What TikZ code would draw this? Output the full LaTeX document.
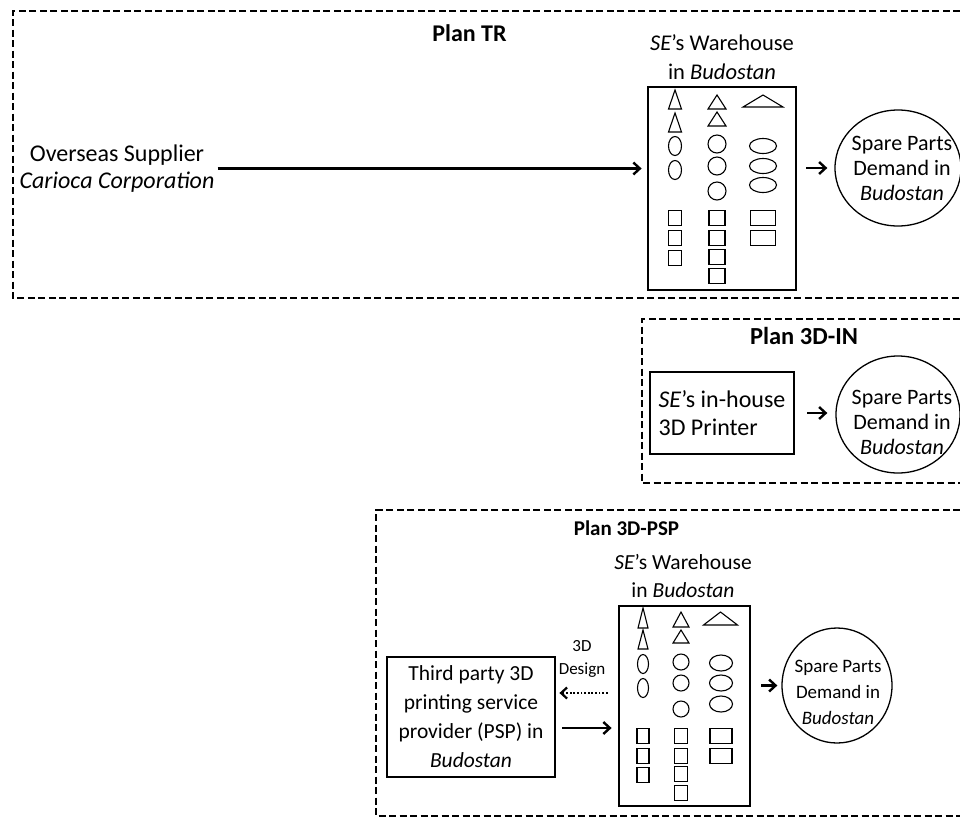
\documentclass[tikz,border=0pt]{standalone}
\usepackage{fontspec}
\setmainfont{Carlito}
\usetikzlibrary{arrows.meta,shapes.geometric}

\begin{document}
\begin{tikzpicture}[x=1pt,y=-1pt,
  plan/.style={line width=2.2pt, dash pattern=on 7pt off 3.5pt},
  txt/.style={font=\fontsize{22}{25}\selectfont, align=center, inner sep=0pt},
  ttl/.style={inner sep=0pt},
  store/.style={draw, line width=2.8pt, inner sep=0pt},
  dem/.style={draw, ellipse, line width=1.3pt, inner sep=0pt},
  item/.style={line width=1.1pt},
  arr/.style={line width=2.4pt, -{Straight Barb[length=6.5pt,width=12pt]}},
  dotarr/.style={line width=2.2pt, dash pattern=on 1.8pt off 1.8pt, -{Straight Barb[length=6pt,width=11pt]}}
]
\useasboundingbox (0,0) rectangle (960,820);

% ---------- Plan TR ----------
\draw[plan] (960,11) -| (12.7,298) -- (960,298);
\node[ttl, font=\fontsize{24}{28}\selectfont\bfseries] at (469.5,33) {Plan TR};
\node[txt, font=\fontsize{24}{27}\selectfont] (sup) at (117,168.5)
  {Overseas Supplier\\\textit{Carioca Corporation}};
\node[txt, font=\fontsize{22.5}{29}\selectfont] at (722,57.5)
  {\textit{SE}’s Warehouse\\in \textit{Budostan}};
\node[store, minimum width=148, minimum height=203] (wh1) at (722,188.5) {};
\node[dem, minimum width=126, minimum height=116] (dem1) at (898,168) {};
\node[txt] at (902,168) {Spare Parts\\Demand in\\\textit{Budostan}};

% stock kept in the warehouse
\begin{scope}[item]
  % first column
  \draw (668.5,109) -- (675,90) -- (681.5,109) -- cycle;
  \draw (668.5,132) -- (675,113) -- (681.5,132) -- cycle;
  \draw (675,146) ellipse [x radius=6.5, y radius=9.5];
  \draw (675,170) ellipse [x radius=6.5, y radius=9.5];
  \foreach \y in {218,238,258}
    \draw (668.5,\y-7.5) rectangle (681.5,\y+7.5);
  % second column
  \draw (708,109) -- (717,95) -- (726,109) -- cycle;
  \draw (708,126) -- (717,112) -- (726,126) -- cycle;
  \foreach \y in {144,166,191}
    \draw (717,\y) circle [radius=9];
  \foreach \y in {218,238,257,276}
    \draw (709,\y-7.5) rectangle (725,\y+7.5);
  % third column
  \draw (743,107) -- (763,95) -- (783,107) -- cycle;
  \foreach \y in {146,166,185}
    \draw (763,\y) ellipse [x radius=13.5, y radius=7.5];
  \foreach \y in {218,238}
    \draw (750.5,\y-7.5) rectangle (775.5,\y+7.5);
\end{scope}

\draw[arr, shorten <=3pt, shorten >=5pt] (sup.east) -- (sup.east -| wh1.west);
\draw[arr, shorten <=9pt, shorten >=7pt] (wh1.east |- dem1.west) -- (dem1.west);

% ---------- Plan 3D-IN ----------
\draw[plan] (960,319) -| (642,483) -- (960,483);
\node[ttl, font=\fontsize{24.5}{28}\selectfont\bfseries] at (804,335.5) {Plan 3D-IN};
\node[store, minimum width=144, minimum height=82, align=left,
      font=\fontsize{24}{28}\selectfont] (prn) at (722,413)
  {\textit{SE}’s in-house\\3D Printer};
\node[dem, minimum width=124, minimum height=117] (dem2) at (898,414.5) {};
\node[txt] at (902,422) {Spare Parts\\Demand in\\\textit{Budostan}};
\draw[arr, shorten <=12pt, shorten >=8pt] (prn.east) -- (prn.east -| dem2.west);

% ---------- Plan 3D-PSP ----------
\draw[plan] (960,510) -| (376,816) -- (960,816);
\node[ttl, font=\fontsize{21}{25}\selectfont\bfseries] at (626.5,528) {Plan 3D-PSP};
\node[txt, font=\fontsize{21.5}{28}\selectfont] at (683,576)
  {\textit{SE}’s Warehouse\\in \textit{Budostan}};
\node[store, minimum width=131, minimum height=200] (wh2) at (684.5,706) {};
\node[store, minimum width=168, minimum height=120, align=center,
      font=\fontsize{21.5}{29}\selectfont] (psp) at (471,717)
  {Third party 3D\\printing service\\provider (PSP) in\\\textit{Budostan}};
\node[dem, minimum width=110, minimum height=115] (dem3) at (837,685.5) {};
\node[txt, font=\fontsize{19}{26}\selectfont] at (838,692) {Spare Parts\\Demand in\\\textit{Budostan}};

\begin{scope}[item]
  % first column
  \draw (638,628) -- (643,608) -- (648,628) -- cycle;
  \draw (638,649) -- (643,630) -- (648,649) -- cycle;
  \draw (643,664) ellipse [x radius=5.5, y radius=9.5];
  \draw (643,688) ellipse [x radius=5.5, y radius=9.5];
  \foreach \y in {736,756,775}
    \draw (637,\y-7.5) rectangle (649,\y+7.5);
  % second column
  \draw (673,627) -- (681,612) -- (689,627) -- cycle;
  \draw (673,643) -- (681,630) -- (689,643) -- cycle;
  \foreach \y in {662,683,709}
    \draw (681,\y) circle [radius=8];
  \foreach \y in {736,756,774,793}
    \draw (674.5,\y-7.5) rectangle (687.5,\y+7.5);
  % third column
  \draw (703.5,625) -- (720.5,612) -- (737.5,625) -- cycle;
  \foreach \y in {663,683,704}
    \draw (721,\y) ellipse [x radius=11.5, y radius=8];
  \foreach \y in {736,756}
    \draw (710,\y-7.5) rectangle (732,\y+7.5);
\end{scope}

\draw[dotarr, shorten <=10pt, shorten >=3pt] (wh2.west |- 0,693) -- (psp.east |- 0,693);
\node[txt, font=\fontsize{17}{23}\selectfont] at (582,658.5) {3D\\Design};
\draw[arr, shorten <=6pt, shorten >=6pt] (psp.east |- 0,728) -- (wh2.west |- 0,728);
\draw[arr, shorten <=10pt, shorten >=4pt] (wh2.east |- dem3.west) -- (dem3.west);
\end{tikzpicture}
\end{document}
